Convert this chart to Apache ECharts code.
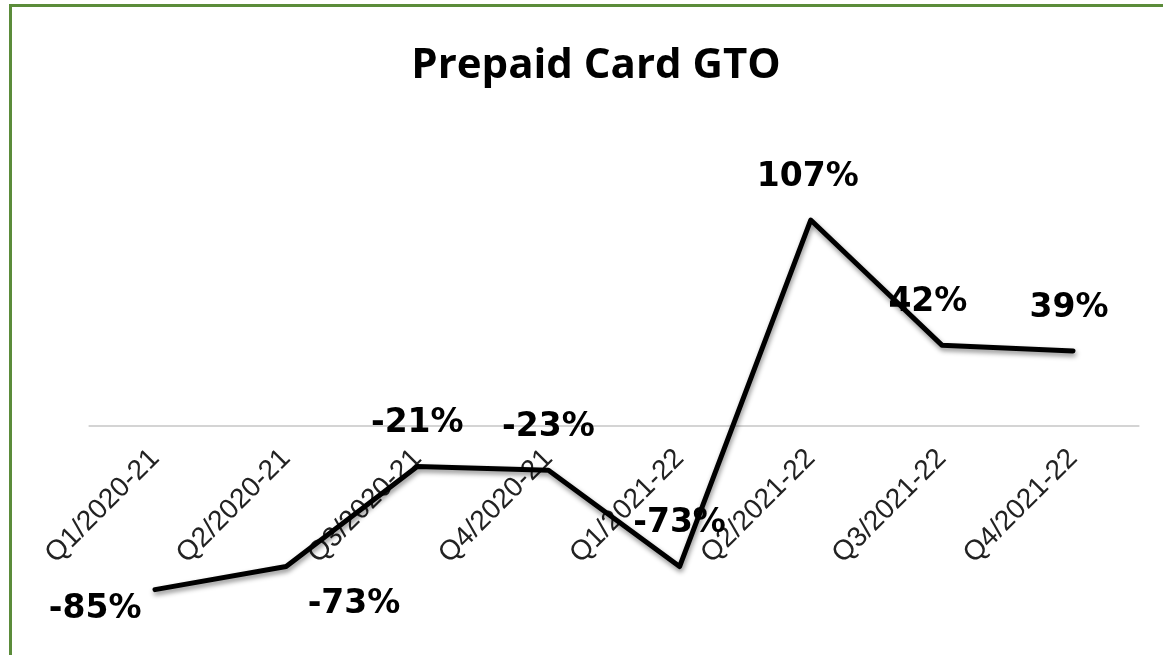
<!DOCTYPE html>
<html>
<head>
<meta charset="utf-8">
<script src="https://cdn.jsdelivr.net/npm/echarts@6/dist/echarts.min.js"></script>
<style>
  html, body { margin: 0; padding: 0; background: #fff; }
  #wrap { position: relative; width: 1163px; height: 655px; overflow: hidden; }
  #chart { position: absolute; left: 0; top: 0; width: 1163px; height: 655px; }
  .bt { position: absolute; left: 9px; top: 4px; width: 1154px; height: 3px; background: #5b8c3a; }
  .bl { position: absolute; left: 9px; top: 4px; width: 3px; height: 651px; background: #5b8c3a; }
</style>
</head>
<body>
<div id="wrap">
  <div id="chart"></div>
  <div class="bt"></div>
  <div class="bl"></div>
</div>
<script>
const categories = ['Q1/2020-21', 'Q2/2020-21', 'Q3/2020-21', 'Q4/2020-21', 'Q1/2021-22', 'Q2/2021-22', 'Q3/2021-22', 'Q4/2021-22'];
const gtoGrowth = [-85, -73, -21, -23, -73, 107, 42, 39];
const chartTitle = 'Prepaid Card GTO';

// label placement overrides (style only)
const labelPositions = { 0: 'left', 1: 'right' };
const labelShifts = { 0: [13, 20], 1: [-5, 38], 5: [-3, 0], 6: [-14, 0], 7: [-4, 0] };

const chart = echarts.init(document.getElementById('chart'), null, { renderer: 'canvas' });
chart.setOption({
  animation: false,
  backgroundColor: '#fff',
  title: {
    text: chartTitle,
    left: 591,
    top: 40,
    textAlign: 'center',
    textStyle: { fontFamily: 'Open Sans', fontWeight: 'bold', fontSize: 42, color: '#000' }
  },
  grid: [
    { left: 89.4, right: 24.4, top: 195, bottom: 36.5, containLabel: false, outerBoundsMode: 'none' },
    { left: 89.4, right: 24.4, top: 100, bottom: 229, containLabel: false, outerBoundsMode: 'none' }
  ],
  xAxis: [
    {
      type: 'category',
      gridIndex: 0,
      data: categories,
      boundaryGap: true,
      show: false
    },
    {
      type: 'category',
      gridIndex: 1,
      position: 'bottom',
      data: categories,
      boundaryGap: true,
      axisLine: { show: true, lineStyle: { color: '#d4d4d4', width: 2 } },
      axisTick: { show: false },
      axisLabel: {
        rotate: 45,
        margin: 28,
        fontFamily: 'Liberation Sans',
        fontSize: 28,
        color: '#222',
        interval: 0,
        hideOverlap: false
      },
      z: 1
    }
  ],
  yAxis: [
    { type: 'value', gridIndex: 0, min: -100, max: 120, show: false, splitLine: { show: false } },
    { type: 'value', gridIndex: 1, min: 0, max: 1, show: false, splitLine: { show: false } }
  ],
  series: [{
    type: 'line',
    xAxisIndex: 0,
    yAxisIndex: 0,
    data: gtoGrowth.map((v, i) => labelPositions[i] ? { value: v, label: { position: labelPositions[i] } } : v),
    showSymbol: true,
    symbol: 'circle',
    symbolSize: 1,
    itemStyle: { color: 'rgba(0,0,0,0)' },
    z: 3,
    lineStyle: {
      color: '#000',
      width: 5,
      join: 'round',
      cap: 'round',
      shadowColor: 'rgba(0,0,0,0.45)',
      shadowBlur: 5,
      shadowOffsetX: 1,
      shadowOffsetY: 3
    },
    labelLayout: function (params) {
      const s = labelShifts[params.dataIndex] || [0, 0];
      return { dx: s[0], dy: s[1], hideOverlap: false };
    },
    label: {
      show: true,
      position: 'top',
      distance: 26,
      formatter: p => p.value + '%',
      fontFamily: 'DejaVu Sans',
      fontWeight: 'bold',
      fontSize: 33,
      color: '#000'
    }
  }]
});
</script>
</body>
</html>
